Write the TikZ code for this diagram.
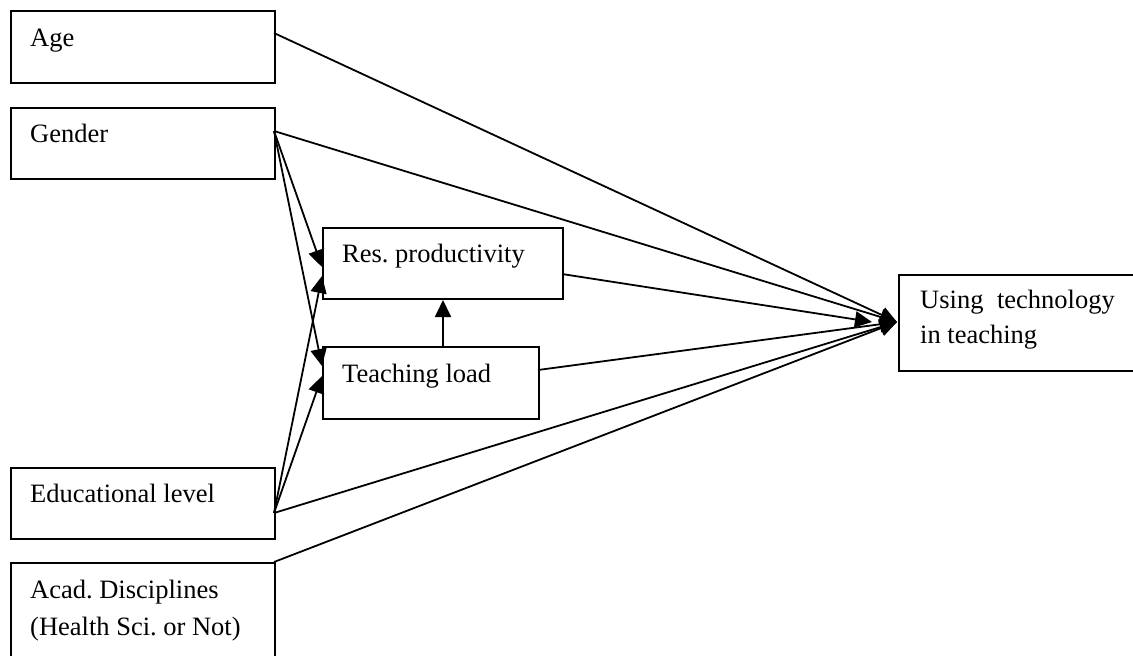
\documentclass[tikz,border=0pt]{standalone}
\usepackage{fontspec}
\setmainfont{Liberation Serif}
\usetikzlibrary{arrows.meta}
\frenchspacing
\begin{document}
\begin{tikzpicture}[x=1pt,y=-1pt,
  box/.style={draw,line width=2pt,inner sep=0pt,anchor=north west},
  txt/.style={anchor=base west,inner sep=0pt,font=\fontsize{26.5}{37}\selectfont},
  conn/.style={line width=1.8pt},
  arr/.style={conn,-{Triangle[length=17pt,width=16pt]}}]
\clip (0,0) rectangle (1133,656);
\fill[white] (0,0) rectangle (1133,656);
% boxes
\node[box,minimum width=264pt,minimum height=72pt] (age) at (10,10) {};
\node[box,minimum width=264pt,minimum height=71pt] (gender) at (10,107) {};
\node[box,minimum width=240pt,minimum height=71pt] (res) at (322,227) {};
\node[box,minimum width=216pt,minimum height=72pt] (tl) at (322,346) {};
\node[box,minimum width=264pt,minimum height=71pt] (edu) at (10,467) {};
\node[box,minimum width=264pt,minimum height=120pt] (acad) at (10,562) {};
\node[box,minimum width=250pt,minimum height=96pt] (tech) at (898,274) {};
% texts
\node[txt] (tage) at (30,46) {Age};
\node[txt] (tgender) at (30,142) {Gender};
\node[txt] (tres) at (342,262) {Res. productivity};
\node[txt] (ttl) at (342,382) {Teaching load};
\node[txt] (tedu) at (30,502) {Educational level};
\node[txt] (tacad1) at (30,598) {Acad. Disciplines};
\node[txt] (tacad2) at (30,635) {(Health Sci. or Not)};
\node[txt] (ttech1) at (920,308) {Using};
\node[txt,anchor=base east] (ttech2) at (1115,308) {technology};
\node[txt] (ttech3) at (920,343) {in teaching};
% ports
\coordinate (pAge) at (274,33);
\coordinate (pGen) at (274,131);
\coordinate (pRes) at (562,274);
\coordinate (pTL) at (538,370);
\coordinate (pEdu) at (274,513);
\coordinate (pAcad) at (274,562);
\coordinate (T) at (897,322);
\coordinate (Tr) at (872,322);
\coordinate (r1) at (322,267);
\coordinate (r2) at (322,276);
\coordinate (t1) at (322,366);
\coordinate (t2) at (322,376);
% connectors
\draw[arr] (pAge) -- (T);
\draw[arr] (pGen) -- (T);
\draw[arr] (pRes) -- (Tr);
\draw[arr] (pTL) -- (T);
\draw[arr] (pEdu) -- (T);
\draw[arr] (pAcad) -- (T);
\draw[arr] (pGen) -- (r1);
\draw[arr] (pGen) -- (t1);
\draw[arr] (pEdu) -- (r2);
\draw[arr] (pEdu) -- (t2);
\draw[arr] (res.south |- tl.north) -- (res.south);
\end{tikzpicture}
\end{document}
